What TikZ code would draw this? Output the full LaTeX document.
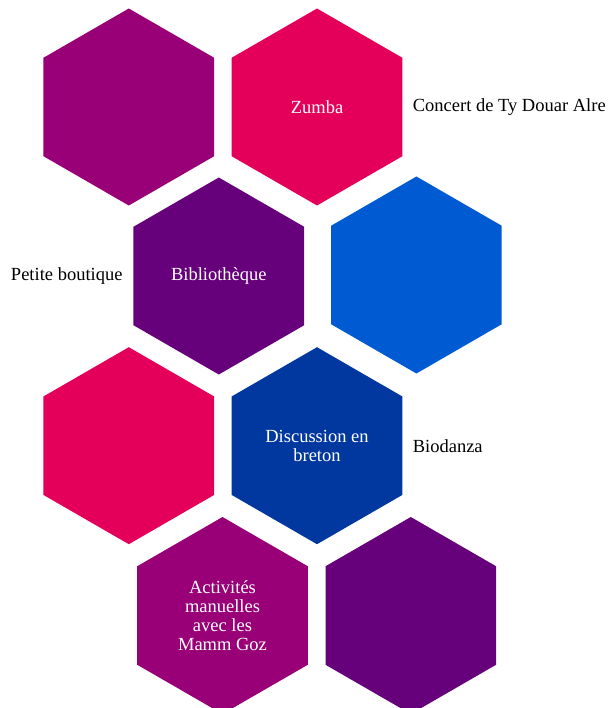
\documentclass[tikz,border=0pt]{standalone}
\usepackage{fontspec}
\setmainfont{Liberation Serif}
\usetikzlibrary{shapes.geometric,positioning}
\definecolor{cPurple}{HTML}{990078}
\definecolor{cPink}{HTML}{E4005A}
\definecolor{cDeep}{HTML}{66007B}
\definecolor{cBlue}{HTML}{005BD3}
\definecolor{cNavy}{HTML}{0038A0}
\tikzset{
  hexa/.style={regular polygon, regular polygon sides=6, regular polygon rotate=30,
    minimum size=197pt, inner sep=0pt, outer sep=0pt, draw=none, fill=#1,
    text=white, align=center, font=\fontsize{18.5}{19.2}\selectfont},
  lbl/.style={inner sep=0pt, outer sep=0pt, text=black, font=\fontsize{18.5}{19.2}\selectfont}
}
\begin{document}
\begin{tikzpicture}[x=1pt,y=-1pt]
\useasboundingbox (0,0) rectangle (611,708);
\node[hexa=cPurple] (h1) at (128.8,107) {};
\node[hexa=cPink]   (h2) at (317,107) {Zumba};
\node[hexa=cDeep]   (h3) at (218.8,276) {Bibliothèque};
\node[hexa=cBlue]   (h4) at (416.4,275) {};
\node[hexa=cPink]   (h5) at (128.8,445.7) {};
\node[hexa=cNavy]   (h6) at (317,445.7) {Discussion en\\breton};
\node[hexa=cPurple] (h7) at (222.5,615.5) {Activités\\manuelles\\avec les\\Mamm Goz};
\node[hexa=cDeep]   (h8) at (410.8,615.5) {};
\node[lbl, right=10.5pt of h2] (l2) {Concert de Ty Douar Alre};
\node[lbl, left=11pt of h3] (l3) {Petite boutique};
\node[lbl, right=10.5pt of h6] (l6) {Biodanza};
\end{tikzpicture}
\end{document}
